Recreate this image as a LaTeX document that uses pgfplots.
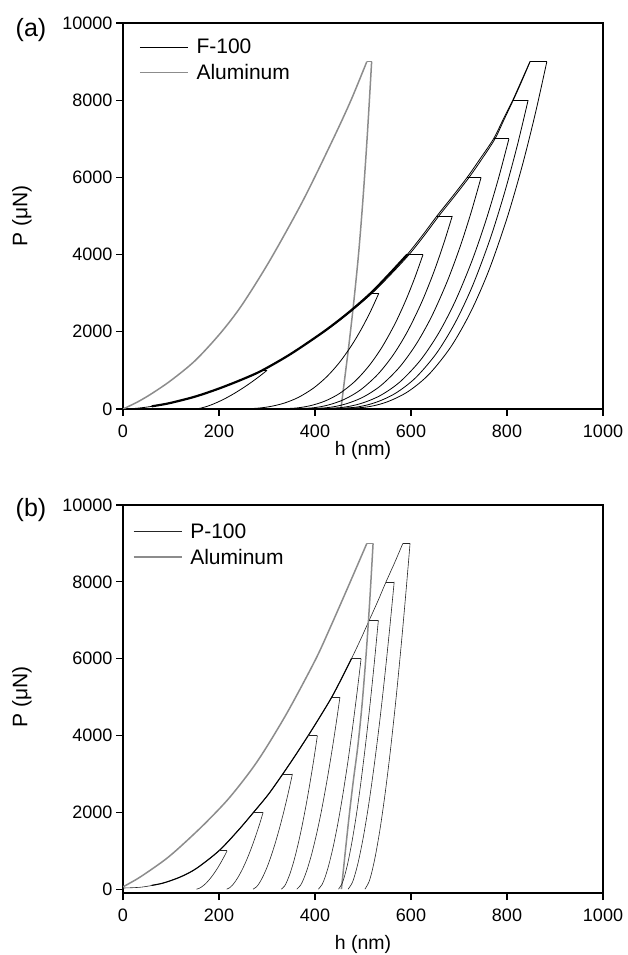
\documentclass[border=0pt]{standalone}
\usepackage{fontspec}
\setmainfont{Liberation Sans}
\usepackage{pgfplots}
\pgfplotsset{compat=1.18}
\definecolor{algray}{RGB}{140,140,140}
\pgfplotsset{
 myax/.style={
  scale only axis, width=480pt,
  xmin=0, xmax=1000, ymax=10000,
  xtick={0,200,...,1000}, ytick={0,2000,...,10000},
  tick pos=left, tick align=outside, major tick length=7pt,
  axis line style={line width=1.3pt},
  every tick/.append style={line width=1.1pt, black},
  tick label style={font=\fontsize{18}{20}\selectfont},
  xticklabel style={yshift=-5pt},
  /pgf/number format/assume math mode=true,
  /pgf/number format/1000 sep={},
  scaled ticks=false,
  legend style={draw=none, fill=none, font=\fontsize{21}{24}\selectfont, row sep=7pt, inner sep=0pt, nodes={inner sep=1pt}},
  legend cell align=left,
  legend image code/.code={\draw[#1] (0pt,0pt) -- (48pt,0pt); \path (55pt,0pt);},
 },
 blk/.style={black, line width=0.8pt, no marks},
 blkb/.style={black!85, line width=0.6pt, no marks},
 alu/.style={algray, line width=1.5pt, no marks},
}
\begin{document}
\begin{tikzpicture}
\path[use as bounding box] (0pt,0pt) rectangle (627pt,955pt);
% ---------------- panel (a)
\begin{axis}[myax, at={(123pt,546pt)}, anchor=south west, height=386pt, ymin=0,
  legend style={at={(0.033,0.962)}, anchor=north west}]
% loading curve of F-100 (shared by all indentations)
\addplot[blk, smooth] coordinates {(0,0) (25,15) (50,50) (75,100) (100,160) (150,320) (200,530) (250,775) (290,1000) (350,1430) (420,2020) (470,2500) (516,3000) (555,3500) (592,4000) (624,4500) (654,5000) (686,5500) (717,6000) (745,6500) (772,7000) (792,7500) (812,8000) (830,8500) (848,9000)};
\addlegendentry{F-100}
\addplot[alu, smooth] coordinates {(0,0) (30,180) (60,400) (100,740) (150,1250) (202,1950) (247,2680) (306,3850) (375,5400) (438,7000) (475,8000) (508,9000)};
\addlegendentry{Aluminum}
\addplot[alu, forget plot] coordinates {(508,9000) (518,9000)};
\addplot[alu, smooth, forget plot] coordinates {(518,9000) (509,7100) (500,5450) (491,4050) (481,2800) (471,1700) (462,800) (454,0)};
% second loading trace and overlapping band
\addplot[blk, smooth, forget plot] coordinates {(350,1430) (420,2010) (470,2480) (519,3000) (559,3500) (596,4000) (628,4500) (658,5000) (690,5500) (721,6000) (749,6500) (775,7000) (794,7500) (813,8000) (831,8500) (848,9000)};
\addplot[black, line width=2.2pt, smooth, no marks, forget plot] coordinates {(60,70) (75,100) (100,160) (150,320) (200,530) (250,775) (290,1000) (350,1430) (420,2020) (470,2500) (516,3000) (555,3500) (592,4000)};
% holds
\addplot[blk, forget plot] coordinates {(290,1000) (300,1000)};
\addplot[blk, forget plot] coordinates {(516,3000) (533,3000)};
\addplot[blk, forget plot] coordinates {(592,4000) (625,4000)};
\addplot[blk, forget plot] coordinates {(654,5000) (686,5000)};
\addplot[blk, forget plot] coordinates {(717,6000) (746,6000)};
\addplot[blk, forget plot] coordinates {(772,7000) (804,7000)};
\addplot[blk, forget plot] coordinates {(812,8000) (844,8000)};
\addplot[blk, forget plot] coordinates {(848,9000) (883,9000)};
% unloading
\addplot[blk, smooth, forget plot] coordinates {(300,1000) (284.6,850) (268.3,700) (250.7,550) (231.4,400) (214.2,280) (197.8,180) (182.3,100) (170.4,50) (161.1,20) (150,0)};
\addplot[blk, smooth, forget plot] coordinates {(533,3000) (516.5,2550) (497.9,2100) (476.4,1650) (450.6,1200) (424.8,840) (396.7,540) (365.3,300) (335.3,150) (304.9,60) (273.5,15) (220,0)};
\addplot[blk, smooth, forget plot] coordinates {(625,4000) (607.9,3400) (588.6,2800) (566.3,2200) (539.5,1600) (512.6,1120) (483.5,720) (450.9,400) (419.7,200) (388.2,80) (355.6,20) (300,0)};
\addplot[blk, smooth, forget plot] coordinates {(686,5000) (667.2,4250) (646.1,3500) (621.7,2750) (592.3,2000) (562.9,1400) (531,900) (495.3,500) (461.2,250) (426.6,100) (390.9,25) (330,0)};
\addplot[blk, smooth, forget plot] coordinates {(746,6000) (725.4,5100) (702.2,4200) (675.3,3300) (643.1,2400) (610.8,1680) (575.8,1080) (536.5,600) (499,300) (461.1,120) (421.9,30) (355,0)};
\addplot[blk, smooth, forget plot] coordinates {(804,7000) (781.7,5950) (756.5,4900) (727.4,3850) (692.4,2800) (657.4,1960) (619.4,1260) (576.8,700) (536.2,350) (495.1,140) (452.5,35) (380,0)};
\addplot[blk, smooth, forget plot] coordinates {(844,8000) (820.9,6800) (794.8,5600) (764.7,4400) (728.5,3200) (692.2,2240) (652.9,1440) (608.8,800) (566.7,400) (524.1,160) (480.1,40) (405,0)};
\addplot[blk, smooth, forget plot] coordinates {(883,9000) (858.9,7650) (831.7,6300) (800.2,4950) (762.5,3600) (724.6,2520) (683.6,1620) (637.6,900) (593.7,450) (549.3,180) (503.3,45) (425,0)};
\end{axis}
% ---------------- panel (b)
\begin{axis}[myax, at={(123pt,62pt)}, anchor=south west, height=388pt, ymin=-100,
  legend style={at={(0.02,0.955)}, anchor=north west}]
\addplot[blkb, smooth] coordinates {(0,30) (40,55) (84,160) (120,320) (153,540) (200,1000) (240,1530) (272,2000) (303,2470) (333,3000) (360,3500) (386,4000) (411,4500) (435,5000) (456,5500) (476,6000) (495,6500) (513,7000) (531,7500) (548,8000) (566,8500) (583,9000)};
\addlegendentry{P-100}
\addplot[alu, smooth] coordinates {(0,60) (30,270) (60,520) (90,790) (119,1100) (170,1700) (223,2400) (280,3330) (340,4550) (400,5950) (431,6790) (470,7900) (508,9000)};
\addlegendentry{Aluminum}
\addplot[alu, forget plot] coordinates {(508,9000) (521,9000)};
\addplot[alu, smooth, forget plot] coordinates {(521,9000) (514,7500) (507,6200) (498,4800) (489,3700) (480,2840) (472,2000) (465,1200) (460,600) (455,0)};
\addplot[black, line width=1.1pt, smooth, no marks, forget plot] coordinates {(60,100) (84,160) (120,320) (153,540) (200,1000) (240,1530) (272,2000) (303,2470) (333,3000) (360,3500) (386,4000) (411,4500) (435,5000) (456,5500) (476,6000)};
% holds
\addplot[blkb, forget plot] coordinates {(200,1000) (217,1000)};
\addplot[blkb, forget plot] coordinates {(272,2000) (292,2000)};
\addplot[blkb, forget plot] coordinates {(333,3000) (353,3000)};
\addplot[blkb, forget plot] coordinates {(386,4000) (405,4000)};
\addplot[blkb, forget plot] coordinates {(435,5000) (452,5000)};
\addplot[blkb, forget plot] coordinates {(476,6000) (496,6000)};
\addplot[blkb, forget plot] coordinates {(513,7000) (532,7000)};
\addplot[blkb, forget plot] coordinates {(548,8000) (565,8000)};
\addplot[blkb, forget plot] coordinates {(583,9000) (598,9000)};
% unloading
\addplot[blkb, smooth, forget plot] coordinates {(217,1000) (210.8,850) (204.2,700) (197.1,550) (189.1,400) (181.9,280) (174.9,180) (168.2,100) (162.8,50) (158.5,20) (153,0)};
\addplot[blkb, smooth, forget plot] coordinates {(292,2000) (284.7,1700) (276.8,1400) (268.3,1100) (258.9,800) (250.3,560) (242,360) (234,200) (227.7,100) (222.6,40) (216,0)};
\addplot[blkb, smooth, forget plot] coordinates {(353,3000) (345.1,2550) (336.6,2100) (327.4,1650) (317.2,1200) (308,840) (299.1,540) (290.4,300) (283.6,150) (278.1,60) (271,0)};
\addplot[blkb, smooth, forget plot] coordinates {(405,4000) (397.8,3400) (390,2800) (381.6,2200) (372.3,1600) (363.8,1120) (355.7,720) (347.8,400) (341.5,200) (336.5,80) (330,0)};
\addplot[blkb, smooth, forget plot] coordinates {(452,5000) (443.3,4250) (434,3500) (423.9,2750) (412.8,2000) (402.6,1400) (392.8,900) (383.3,500) (375.8,250) (369.8,100) (362,0)};
\addplot[blkb, smooth, forget plot] coordinates {(496,6000) (487.4,5100) (478.2,4200) (468.3,3300) (457.2,2400) (447.2,1680) (437.5,1080) (428.1,600) (420.7,300) (414.7,120) (407,0)};
\addplot[blkb, smooth, forget plot] coordinates {(532,7000) (524,5950) (515.4,4900) (506.1,3850) (495.8,2800) (486.5,1960) (477.4,1260) (468.7,700) (461.8,350) (456.2,140) (449,0)};
\addplot[blkb, smooth, forget plot] coordinates {(565,8000) (555.7,6800) (545.8,5600) (535.1,4400) (523.1,3200) (512.3,2240) (501.9,1440) (491.8,800) (483.8,400) (477.3,160) (469,0)};
\addplot[blkb, smooth, forget plot] coordinates {(598,9000) (588.9,7650) (579.2,6300) (568.7,4950) (557,3600) (546.4,2520) (536.2,1620) (526.3,900) (518.5,450) (512.1,180) (504,0)};
\end{axis}
% ---------------- labels
\node[font=\fontsize{25}{28}\selectfont] at (31pt,925pt) {(a)};
\node[font=\fontsize{25}{28}\selectfont] at (31pt,445pt) {(b)};
\node[font=\fontsize{21}{24}\selectfont, rotate=90] at (22pt,739pt) {P (μN)};
\node[font=\fontsize{21}{24}\selectfont, rotate=90] at (22pt,258pt) {P (μN)};
\node[font=\fontsize{19.5}{22}\selectfont] at (363pt,505pt) {h (nm)};
\node[font=\fontsize{19.5}{22}\selectfont] at (363pt,11pt) {h (nm)};
\end{tikzpicture}
\end{document}
